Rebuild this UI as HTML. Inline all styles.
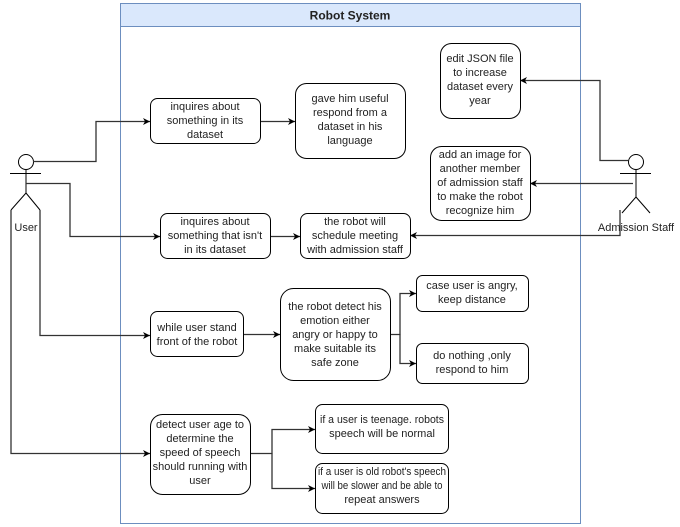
<!DOCTYPE html>
<html><head><meta charset="utf-8"><style>
html,body{margin:0;padding:0;background:#fff;}
svg{display:block;}
text{font-family:"Liberation Sans",Arial,sans-serif;font-size:11px;fill:#222;}
</style></head><body>
<svg width="680" height="527" viewBox="0 0 680 527" xmlns="http://www.w3.org/2000/svg">
<defs>
<marker id="a" markerWidth="8" markerHeight="8" refX="7" refY="4" orient="auto" markerUnits="userSpaceOnUse">
<path d="M0,0.5 L7,4 L0,7.5 L2,4 Z" fill="#000"/>
</marker>
</defs>
<rect x="120.5" y="3.5" width="460" height="520" fill="#fff" stroke="#6c8ebf"/>
<rect x="120.5" y="3.5" width="460" height="23" fill="#dae8fc" stroke="#6c8ebf"/>
<text x="350" y="19.5" text-anchor="middle" style="font-weight:bold;font-size:12px">Robot System</text>

<g fill="none" stroke="#000" stroke-width="1">
<circle cx="26" cy="162" r="7.5" fill="#fff"/>
<line x1="10" y1="173.5" x2="41" y2="173.5"/>
<line x1="26" y1="170" x2="26" y2="193"/>
<path d="M26,193 L11,210 M26,193 L40,210"/>
<circle cx="636" cy="162" r="7.5" fill="#fff"/>
<line x1="620" y1="173.5" x2="651" y2="173.5"/>
<line x1="636" y1="170" x2="636" y2="197"/>
<path d="M636,197 L622,213 M636,197 L650,213"/>
</g>
<text x="26" y="231" text-anchor="middle">User</text>
<text x="636" y="231" text-anchor="middle">Admission Staff</text>

<g fill="none" stroke="#333" stroke-width="1.3">
<path d="M33,161.5 H96 V121.5 H150" marker-end="url(#a)"/>
<path d="M26,183.5 H70 V236.5 H160" marker-end="url(#a)"/>
<path d="M40,210 V335.5 H150" marker-end="url(#a)"/>
<path d="M11,210 V453.5 H150" marker-end="url(#a)"/>
<path d="M260,121.5 H295" marker-end="url(#a)"/>
<path d="M270,236.5 H300" marker-end="url(#a)"/>
<path d="M243,334.5 H280" marker-end="url(#a)"/>
<path d="M390,334.5 H400 V293.5 H416" marker-end="url(#a)"/>
<path d="M400,334.5 V363.5 H416" marker-end="url(#a)"/>
<path d="M250,453.5 H272 V429.5 H315" marker-end="url(#a)"/>
<path d="M272,453.5 V488.5 H315" marker-end="url(#a)"/>
<path d="M628,160.5 H600 V80.5 H520" marker-end="url(#a)"/>
<path d="M633,183.5 H530" marker-end="url(#a)"/>
<path d="M620,210 V235.5 H410" marker-end="url(#a)"/>
</g>

<g fill="#fff" stroke="#000" stroke-width="1">
<rect x="150.5" y="98.5" width="110" height="45" rx="7"/>
<rect x="295.5" y="83.5" width="110" height="75" rx="11"/>
<rect x="160.5" y="213.5" width="110" height="45" rx="7"/>
<rect x="300.5" y="213.5" width="110" height="45" rx="7"/>
<rect x="440.5" y="43.5" width="80" height="75" rx="11"/>
<rect x="430.5" y="146.5" width="100" height="74" rx="11"/>
<rect x="150.5" y="311.5" width="93" height="45" rx="7"/>
<rect x="280.5" y="288.5" width="110" height="92" rx="13"/>
<rect x="416.5" y="275.5" width="112" height="36" rx="6"/>
<rect x="416.5" y="343.5" width="112" height="40" rx="6"/>
<rect x="150.5" y="414.5" width="100" height="80" rx="12"/>
<rect x="315.5" y="404.5" width="133" height="49" rx="7"/>
<rect x="315.5" y="463.5" width="133" height="50" rx="7"/>
</g>

<g text-anchor="middle">
<text x="205" y="110">inquires about</text><text x="205" y="124">something in its</text><text x="205" y="138">dataset</text>
<text x="350" y="102">gave him useful</text><text x="350" y="116">respond from a</text><text x="350" y="130">dataset in his</text><text x="350" y="144">language</text>
<text x="215" y="225">inquires about</text><text x="215" y="239">something that isn't</text><text x="215" y="253">in its dataset</text>
<text x="355" y="225">the robot will</text><text x="355" y="239">schedule meeting</text><text x="355" y="253">with admission staff</text>
<text x="480" y="62">edit JSON file</text><text x="480" y="76">to increase</text><text x="480" y="90">dataset every</text><text x="480" y="104">year</text>
<text x="480" y="158">add an image for</text><text x="480" y="172">another member</text><text x="480" y="186">of admission staff</text><text x="480" y="200">to make the robot</text><text x="480" y="214">recognize him</text>
<text x="197" y="331">while user stand</text><text x="197" y="345">front of the robot</text>
<text x="335" y="310">the robot detect his</text><text x="335" y="324">emotion either</text><text x="335" y="338">angry or happy to</text><text x="335" y="352">make suitable its</text><text x="335" y="366">safe zone</text>
<text x="472" y="289">case user is angry,</text><text x="472" y="303">keep distance</text>
<text x="472" y="359">do nothing ,only</text><text x="472" y="373">respond to him</text>
<text x="200" y="428">detect user age to</text><text x="200" y="442">determine the</text><text x="200" y="456">speed of speech</text><text x="200" y="470">should running with</text><text x="200" y="484">user</text>
<text x="382" y="423" textLength="124" lengthAdjust="spacingAndGlyphs">if a user is teenage. robots</text><text x="382" y="437">speech will be normal</text>
<text x="382" y="475" textLength="128" lengthAdjust="spacingAndGlyphs">if a user is old robot's speech</text><text x="382" y="489" textLength="121" lengthAdjust="spacingAndGlyphs">will be slower and be able to</text><text x="382" y="503">repeat answers</text>
</g>
</svg>
</body></html>
